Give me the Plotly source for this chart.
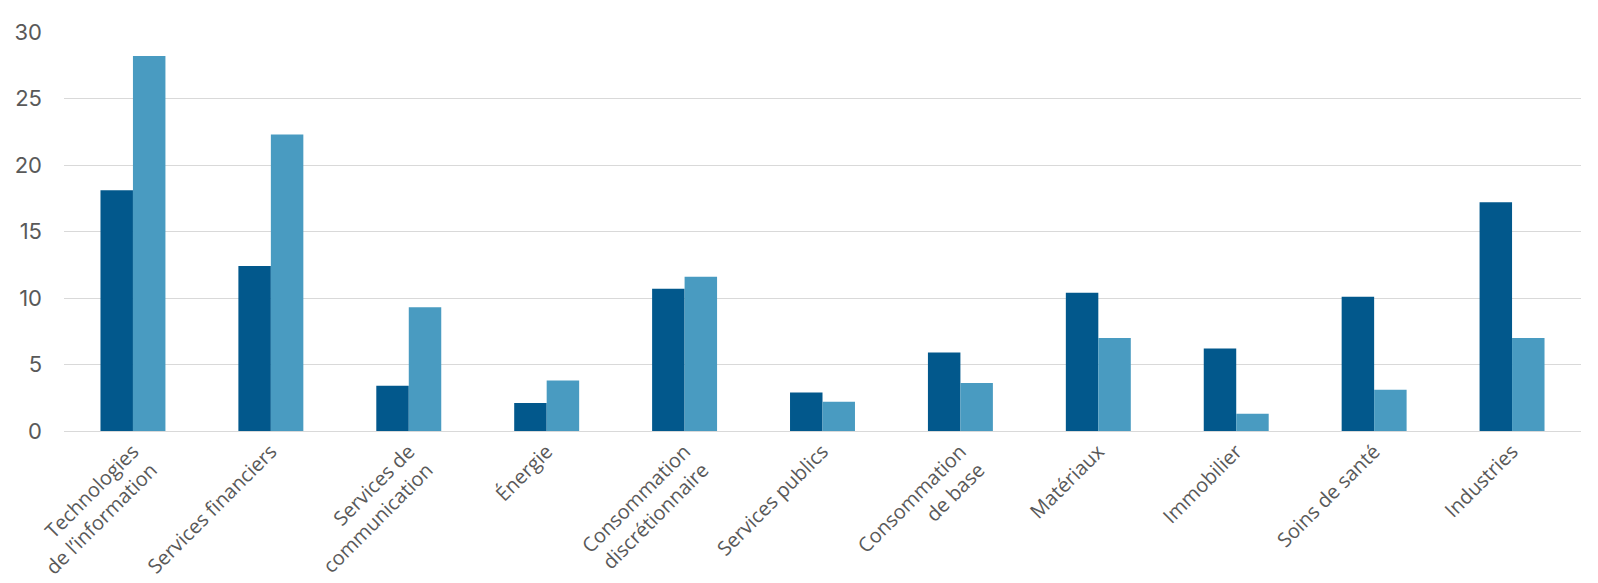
import plotly.graph_objects as go

categories = [
    "Technologies<br>de l’information",
    "Services financiers",
    "Services de<br>communication",
    "Énergie",
    "Consommation<br>discrétionnaire",
    "Services publics",
    "Consommation<br>de base",
    "Matériaux",
    "Immobilier",
    "Soins de santé",
    "Industries",
]
series_a = [18.1, 12.4, 3.4, 2.1, 10.7, 2.9, 5.9, 10.4, 6.2, 10.1, 17.2]
series_b = [28.2, 22.3, 9.3, 3.8, 11.6, 2.2, 3.6, 7.0, 1.3, 3.1, 7.0]
y_ticks = [0, 5, 10, 15, 20, 25, 30]

fig = go.Figure()
fig.add_trace(go.Bar(x=categories, y=series_a, marker=dict(color="#02588C", line=dict(width=0)), name="A"))
fig.add_trace(go.Bar(x=categories, y=series_b, marker=dict(color="#499BC1", line=dict(width=0)), name="B"))

fig.update_layout(
    width=1598, height=583,
    barmode="group", bargap=0.529, bargroupgap=0,
    showlegend=False,
    plot_bgcolor="white", paper_bgcolor="white",
    margin=dict(l=64, r=17, t=32, b=152, autoexpand=False),
    xaxis=dict(
        automargin=False,
        tickangle=-45,
        tickfont=dict(family="Open Sans", size=20, color="#595959"),
        showline=True, linecolor="#D9D9D9", linewidth=1,
        ticks="",
    ),
    yaxis=dict(
        automargin=False,
        range=[0, 30], tickvals=y_ticks,
        tickfont=dict(family="Inter", size=22, color="#595959"),
        showgrid=True, gridcolor="#D9D9D9", gridwidth=1,
        zeroline=False, showline=False, ticks="",
        ticklabelstandoff=21,
    ),
)

fig.write_html(
    "out.html",
    config={"displayModeBar": False},
    post_script="document.body.style.margin='0';document.body.style.overflow='hidden';",
)
